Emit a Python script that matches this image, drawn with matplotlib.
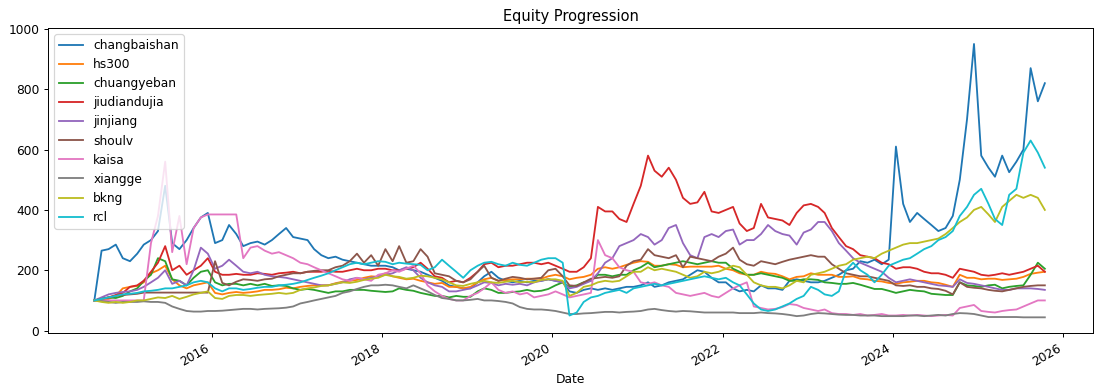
import matplotlib
matplotlib.use("Agg")
import matplotlib.pyplot as plt
import matplotlib.dates as mdates
import pandas as pd

dates = pd.date_range(start="2014-08-15", periods=135, freq=pd.DateOffset(months=1))

changbaishan = [
    100, 265, 270, 285, 240,
    230, 255, 285, 300, 330, 480, 290, 270, 300, 340, 375, 390,
    290, 300, 350, 320, 280, 290, 295, 285, 300, 320, 340, 310,
    305, 300, 270, 250, 240, 245, 235, 230, 225, 220, 215, 215,
    215, 210, 200, 205, 200, 195, 185, 175, 165, 150, 145, 140,
    140, 160, 180, 195, 175, 165, 160, 165, 160, 165, 165, 170,
    165, 160, 130, 125, 135, 140, 135, 140, 135, 140, 145, 145,
    150, 160, 145, 150, 160, 165, 170, 185, 200, 195, 175, 160,
    160, 140, 130, 135, 130, 150, 140, 140, 135, 165, 170, 165,
    160, 160, 165, 175, 185, 200, 205, 230, 225, 235, 220, 235,
    610, 420, 360, 390, 370, 350, 330, 340, 380, 500, 700, 950,
    580, 540, 510, 580, 525, 560, 600, 870, 760, 820,
]
hs300 = [
    100, 103, 105, 115, 140,
    145, 148, 160, 190, 200, 215, 170, 150, 140, 150, 155, 160,
    125, 120, 125, 128, 125, 127, 130, 135, 135, 137, 142, 140,
    145, 148, 150, 150, 150, 157, 162, 165, 168, 175, 180, 178,
    190, 180, 175, 170, 172, 165, 160, 155, 158, 145, 145, 140,
    145, 160, 170, 175, 165, 168, 170, 170, 172, 172, 172, 180,
    185, 180, 170, 175, 178, 185, 205, 210, 205, 210, 218, 225,
    230, 228, 215, 215, 220, 218, 210, 212, 212, 212, 212, 215,
    205, 200, 190, 185, 185, 195, 190, 188, 180, 170, 178, 180,
    190, 185, 185, 185, 178, 178, 180, 172, 170, 165, 163, 158,
    155, 160, 162, 165, 165, 160, 158, 152, 145, 185, 175, 175,
    170, 172, 172, 168, 170, 172, 178, 188, 192, 195,
]
chuangyeban = [
    100, 105, 110, 108, 115,
    130, 140, 165, 185, 240, 230, 170, 165, 150, 175, 195, 200,
    160, 150, 155, 155, 150, 155, 150, 155, 148, 150, 148, 140,
    135, 138, 135, 130, 125, 130, 130, 135, 135, 135, 132, 130,
    128, 130, 140, 135, 132, 125, 120, 115, 115, 110, 115, 112,
    112, 130, 140, 135, 125, 125, 128, 130, 135, 130, 132, 138,
    150, 160, 145, 150, 160, 165, 185, 185, 180, 185, 185, 200,
    210, 225, 210, 215, 220, 225, 230, 225, 220, 225, 230, 225,
    225, 205, 195, 185, 185, 190, 185, 180, 175, 165, 165, 170,
    170, 168, 160, 158, 155, 155, 158, 152, 145, 138, 138, 132,
    125, 130, 135, 132, 130, 122, 120, 118, 118, 160, 150, 148,
    145, 150, 152, 140, 145, 148, 150, 185, 225, 205,
]
jiudiandujia = [
    100, 105, 110, 118, 125,
    145, 150, 165, 195, 225, 280, 200, 215, 185, 200, 215, 240,
    195, 185, 185, 188, 185, 185, 190, 188, 185, 190, 192, 195,
    190, 195, 195, 195, 198, 195, 195, 200, 205, 200, 200, 205,
    205, 200, 200, 205, 210, 225, 205, 180, 175, 160, 165, 160,
    175, 195, 220, 225, 210, 215, 215, 220, 225, 225, 220, 225,
    215, 205, 195, 195, 210, 240, 410, 395, 395, 370, 360, 420,
    480, 580, 530, 510, 540, 500, 440, 420, 425, 460, 395, 390,
    400, 410, 355, 330, 340, 420, 375, 370, 365, 350, 390, 415,
    420, 410, 390, 340, 310, 280, 270, 250, 245, 240, 225, 220,
    205, 210, 210, 205, 195, 190, 190, 185, 175, 205, 200, 195,
    185, 182, 185, 190, 185, 190, 195, 205, 215, 195,
]
jinjiang = [
    100, 110, 120, 125, 128,
    130, 135, 145, 160, 175, 200, 155, 165, 150, 200, 275, 255,
    205, 215, 235, 215, 195, 190, 195, 185, 180, 178, 175, 170,
    165, 160, 155, 150, 150, 155, 160, 170, 175, 170, 175, 180,
    185, 190, 200, 210, 200, 175, 160, 150, 145, 130, 130, 135,
    140, 150, 160, 158, 150, 155, 152, 155, 150, 160, 165, 170,
    165, 160, 140, 145, 155, 165, 190, 225, 240, 280, 290, 300,
    320, 310, 285, 300, 340, 350, 290, 250, 240, 310, 320, 310,
    330, 335, 285, 300, 300, 320, 350, 330, 320, 315, 285, 325,
    335, 360, 360, 330, 290, 265, 240, 225, 215, 205, 195, 175,
    160, 165, 170, 165, 160, 155, 150, 148, 145, 170, 158, 155,
    150, 145, 140, 135, 135, 140, 140, 140, 138, 135,
]
shoulv = [
    100, 105, 110, 115, 118,
    120, 122, 126, 126, 126, 126, 126, 126, 126, 126, 126, 126,
    230, 158, 150, 162, 170, 168, 165, 170, 172, 180, 185, 190,
    190, 195, 198, 200, 200, 210, 215, 230, 255, 225, 250, 215,
    270, 230, 280, 225, 230, 270, 245, 190, 185, 180, 165, 160,
    170, 195, 215, 175, 165, 172, 178, 175, 170, 172, 175, 200,
    205, 180, 150, 148, 160, 172, 175, 178, 175, 180, 215, 230,
    235, 270, 250, 245, 240, 250, 210, 245, 240, 235, 230, 245,
    255, 275, 235, 220, 215, 230, 225, 220, 228, 235, 240, 245,
    250, 245, 245, 220, 205, 190, 185, 180, 180, 175, 170, 165,
    150, 148, 150, 145, 145, 140, 138, 132, 120, 160, 145, 142,
    140, 135, 132, 130, 135, 140, 145, 148, 150, 150,
]
kaisa = [
    100, 100, 100, 100, 100,
    100, 100, 100, 290, 380, 560, 260, 380, 220, 340, 375, 385,
    385, 385, 385, 385, 240, 275, 280, 265, 255, 260, 250, 240,
    225, 220, 210, 200, 190, 180, 170, 165, 175, 170, 165, 185,
    190, 200, 195, 205, 215, 190, 150, 130, 115, 105, 100, 100,
    115, 125, 140, 160, 135, 125, 130, 120, 125, 110, 115, 120,
    130, 120, 110, 115, 120, 125, 300, 250, 240, 210, 200, 195,
    160, 155, 160, 150, 145, 125, 120, 115, 120, 125, 115, 110,
    125, 140, 150, 160, 80, 75, 70, 72, 78, 88, 85, 75,
    70, 65, 70, 58, 55, 55, 52, 55, 50, 52, 55, 50,
    50, 52, 50, 52, 50, 48, 50, 52, 50, 75, 80, 85,
    65, 62, 60, 65, 68, 70, 80, 90, 100, 100,
]
xiangge = [
    100, 98, 95, 92, 95,
    95, 95, 97, 95, 95, 92, 80, 72, 65, 63, 63, 65,
    65, 66, 68, 70, 72, 72, 70, 72, 73, 74, 76, 80,
    90, 95, 100, 105, 110, 115, 125, 130, 138, 145, 150, 150,
    152, 150, 145, 140, 150, 140, 130, 118, 108, 105, 100, 100,
    102, 105, 100, 100, 98, 95, 90, 78, 72, 70, 70, 68,
    65, 60, 55, 55, 57, 58, 60, 62, 62, 60, 62, 63,
    65, 70, 72, 68, 65, 63, 65, 64, 62, 60, 60, 60,
    60, 60, 58, 58, 58, 60, 58, 57, 55, 52, 48, 50,
    55, 58, 57, 55, 53, 52, 52, 50, 50, 50, 48, 48,
    48, 48, 50, 50, 48, 50, 52, 50, 55, 58, 57, 55,
    50, 45, 45, 45, 45, 45, 44, 44, 44, 44,
]
bkng = [
    100, 95, 92, 95, 92,
    95, 100, 100, 105, 110, 108, 115, 105, 112, 120, 125, 130,
    108, 105, 115, 118, 118, 115, 118, 120, 122, 125, 122, 125,
    135, 140, 143, 148, 150, 155, 160, 158, 162, 168, 172, 175,
    185, 180, 178, 172, 175, 182, 180, 175, 170, 160, 150, 148,
    155, 160, 165, 160, 158, 162, 165, 160, 162, 160, 168, 170,
    170, 165, 115, 125, 145, 150, 160, 165, 162, 165, 180, 195,
    195, 210, 200, 205, 200, 195, 185, 175, 180, 195, 190, 195,
    205, 215, 210, 185, 160, 150, 145, 145, 140, 150, 165, 160,
    185, 190, 195, 205, 215, 220, 235, 240, 245, 240, 255, 265,
    275, 285, 290, 290, 295, 300, 305, 320, 340, 360, 375, 400,
    410, 385, 360, 410, 430, 450, 440, 450, 440, 400,
]
rcl = [
    100, 105, 110, 115, 120,
    122, 125, 130, 132, 135, 140, 140, 145, 150, 160, 165, 160,
    140, 130, 140, 140, 135, 138, 142, 145, 145, 150, 152, 155,
    160, 168, 175, 182, 190, 200, 210, 220, 225, 220, 225, 230,
    228, 220, 225, 222, 220, 218, 200, 210, 235, 215, 195, 175,
    200, 215, 225, 228, 220, 215, 225, 218, 215, 225, 235, 240,
    240, 225, 50, 60, 95, 110, 115, 125, 130, 135, 125, 140,
    145, 150, 155, 150, 155, 160, 165, 170, 175, 180, 175, 170,
    175, 160, 150, 120, 90, 70, 65, 70, 80, 90, 105, 115,
    145, 135, 120, 115, 130, 200, 225, 200, 185, 160, 185, 215,
    225, 235, 240, 255, 270, 280, 300, 310, 330, 380, 410, 450,
    470, 420, 370, 350, 450, 470, 590, 630, 590, 540,
]

names = ["changbaishan", "hs300", "chuangyeban", "jiudiandujia", "jinjiang",
         "shoulv", "kaisa", "xiangge", "bkng", "rcl"]
series = [changbaishan, hs300, chuangyeban, jiudiandujia, jinjiang,
          shoulv, kaisa, xiangge, bkng, rcl]

fig = plt.figure(figsize=(1103 / 88, 391 / 88), dpi=88)
ax = fig.add_axes([0.0435, 0.1483, 0.9475, 0.7801])
for name, vals in zip(names, series):
    ax.plot(dates, vals, label=name, linewidth=1.5)

ax.set_title("Equity Progression")
ax.set_xlabel("Date")
ax.set_ylim(-8, 1003)
ax.set_yticks([0, 200, 400, 600, 800, 1000])
ax.set_xlim(pd.Timestamp("2014-01-28"), pd.Timestamp("2026-05-10"))
ax.xaxis.set_major_locator(mdates.YearLocator(2))
ax.xaxis.set_major_formatter(mdates.DateFormatter("%Y"))
plt.setp(ax.get_xticklabels(), rotation=30, ha="right")
ax.legend(loc="upper left")
fig.savefig("out.png", dpi=88)
